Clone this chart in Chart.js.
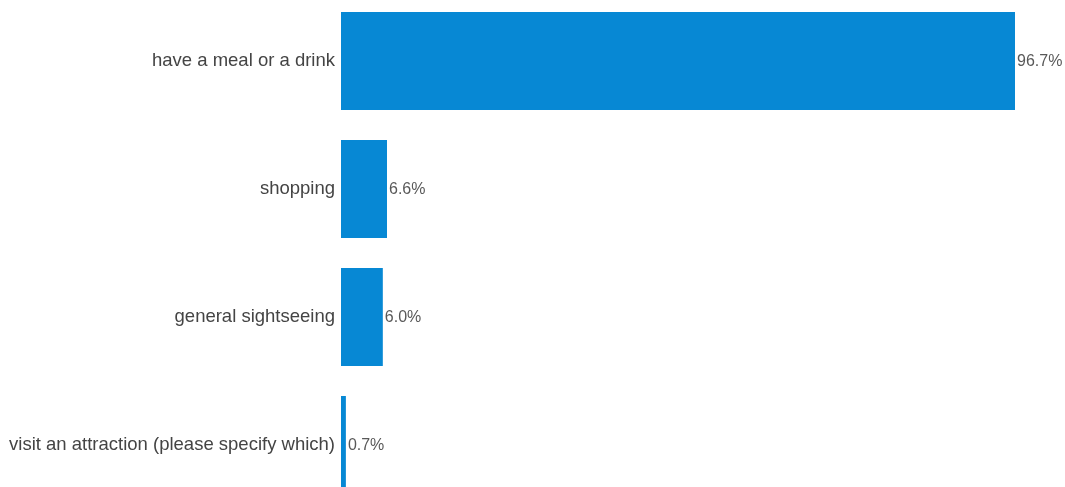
<!DOCTYPE html>
<html>
<head>
<meta charset="utf-8">
<script src="https://cdn.jsdelivr.net/npm/chart.js@4"></script>
<style>
    html, body { margin: 0; padding: 0; background: #fff; overflow: hidden; }
    #wrap { position: absolute; left: 0; top: -3px; width: 1065px; height: 512px; }
</style>
</head>
<body>
<div id="wrap"><canvas id="chartAtividades" width="1065" height="512"></canvas></div>
<script>
// Atividades realizadas na visita (% de respondentes)
const categorias = [
    'have a meal or a drink',
    'shopping',
    'general sightseeing',
    'visit an attraction (please specify which)'
];
const percentuais = [96.7, 6.6, 6.0, 0.7];
const escalaMax = 100;

// rótulo de valor logo após o fim de cada barra
const rotulosValor = {
    id: 'rotulosValor',
    afterDatasetsDraw(chart) {
        const ctx = chart.ctx;
        const meta = chart.getDatasetMeta(0);
        ctx.save();
        ctx.font = '16px "Liberation Sans", Arial, sans-serif';
        ctx.fillStyle = '#595959';
        ctx.textAlign = 'left';
        ctx.textBaseline = 'middle';
        meta.data.forEach((bar, i) => {
            ctx.fillText(percentuais[i].toFixed(1) + '%', bar.x + 2, bar.y + 1);
        });
        ctx.restore();
    }
};

const ctx = document.getElementById('chartAtividades').getContext('2d');
new Chart(ctx, {
    type: 'bar',
    data: {
        labels: categorias,
        datasets: [{
            data: percentuais,
            backgroundColor: '#0788d4',
            borderWidth: 0,
            categoryPercentage: 1,
            barPercentage: 0.766
        }]
    },
    options: {
        indexAxis: 'y',
        responsive: false,
        animation: false,
        layout: { padding: { left: 0, right: 27, top: 0, bottom: 0 } },
        plugins: {
            legend: { display: false },
            tooltip: { enabled: false }
        },
        scales: {
            x: {
                display: false,
                min: 0,
                max: escalaMax
            },
            y: {
                grid: { display: false, drawTicks: false },
                border: { display: false },
                ticks: {
                    padding: 6,
                    color: '#444444',
                    font: { family: '"Liberation Sans", Arial, sans-serif', size: 18.5 }
                },
                afterFit(scale) {
                    // largura fixa do eixo e sem folga vertical para os rótulos
                    scale.width = 341;
                    scale.paddingTop = 0;
                    scale.paddingBottom = 0;
                }
            }
        }
    },
    plugins: [rotulosValor]
});
</script>
</body>
</html>
